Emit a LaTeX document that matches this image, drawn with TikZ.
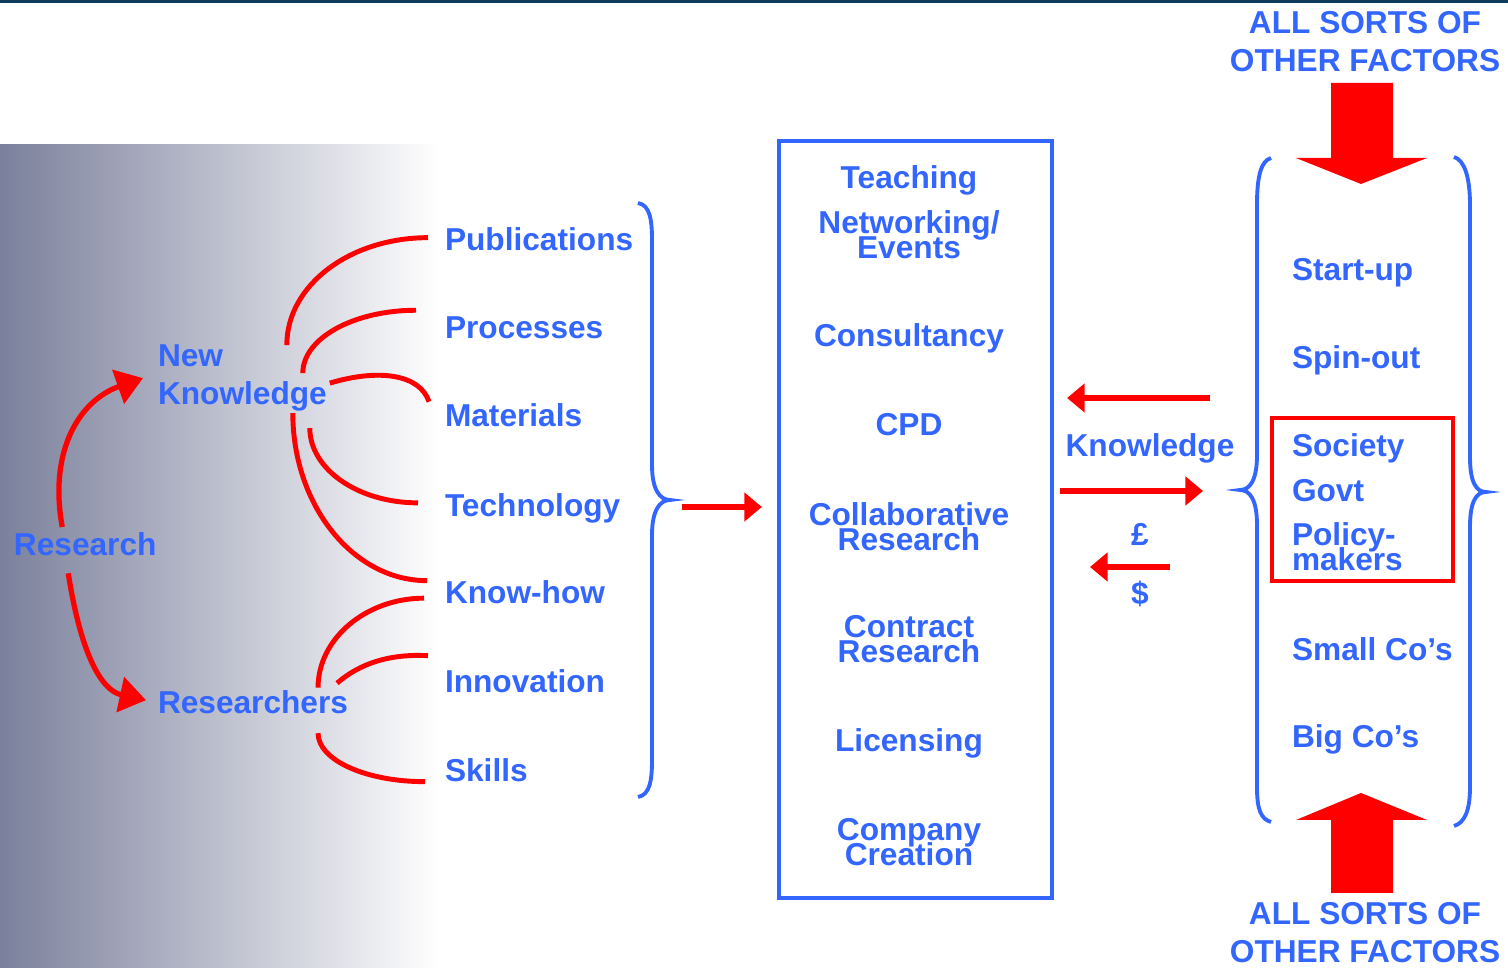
\documentclass[tikz,border=0pt]{standalone}
\usepackage{fontspec}
\setmainfont{Liberation Sans}
\usetikzlibrary{arrows.meta,calc}
\definecolor{txtblue}{HTML}{3366FF}
\definecolor{shadegray}{HTML}{7B809C}
\definecolor{topbar}{HTML}{0E3A5C}
\tikzset{
  lbl/.style={font=\fontsize{9}{11}\selectfont\bfseries, text=txtblue, inner sep=0pt, outer sep=0pt},
  twoline/.style={lbl, align=center},
  link/.style={red, line width=1.4pt},
  growth/.style={red, line width=1.5pt, -{Triangle[length=7.5pt,width=10pt]}},
  flow/.style={red, line width=1.6pt, -{Triangle[length=5pt,width=8pt]}},
  brace/.style={txtblue, line width=1.1pt},
}
\begin{document}
\begin{tikzpicture}[x=0.01cm, y=-0.01cm]
        \useasboundingbox (0,0) rectangle (1508,968);
        \fill[topbar] (0,0) rectangle (1508,3);
        \shade[left color=shadegray, right color=white] (0,145) rectangle (440,968);

        % research and what it gives
        \node[lbl, anchor=base west] (research) at (14,556) {Research};
        \node[lbl, anchor=base west, align=left] (newk) at (158,405) {New\\Knowledge};
        \node[lbl, anchor=base west] (rsrch) at (158,714) {Researchers};

        \node[lbl, anchor=base west] (pub) at (445,251) {Publications};
        \node[lbl, anchor=base west] (proc) at (445,339) {Processes};
        \node[lbl, anchor=base west] (mat) at (445,427) {Materials};
        \node[lbl, anchor=base west] (tech) at (445,517) {Technology};
        \node[lbl, anchor=base west] (knowhow) at (445,604) {Know-how};
        \node[lbl, anchor=base west] (inno) at (445,693) {Innovation};
        \node[lbl, anchor=base west] (skills) at (445,782) {Skills};

        \draw[growth] ($(research.north)+(-23,-6)$) .. controls +(-14,-77) and +(-63,22) .. ($(newk.west)+(-15,0)$);
        \draw[growth] ($(research.south)+(-17,17)$) .. controls +(12,77) and +(-46,-10) .. ($(rsrch.west)+(-12,-2.5)$);

        \draw[link] ($(newk.east)+(-40,-33)$) .. controls +(0,-60) and +(-78,0) .. ($(pub.west)+(-17,-2)$);
        \draw[link] ($(newk.east)+(-24,-5)$) .. controls +(0,-35) and +(-62,0) .. ($(proc.west)+(-29,-18)$);
        \draw[link] ($(newk.east)+(3,5)$) .. controls +(50,-15) and +(-9,-27) .. ($(mat.west)+(-16,-14)$);
        \draw[link] ($(newk.east)+(-17,50)$) .. controls +(0,41) and +(-60,0) .. ($(tech.west)+(-27,-6)$);
        \draw[link] ($(newk.east)+(-34,35)$) .. controls +(0,92) and +(-74,0) .. ($(knowhow.west)+(-18,-12)$);
        \draw[link] ($(rsrch.east)+(-30,-15)$) .. controls +(0,-49) and +(-58,0) .. ($(knowhow.west)+(-21,5.5)$);
        \draw[link] ($(rsrch.east)+(-11,-19.5)$) .. controls +(23,-20) and +(-38,-2) .. ($(inno.west)+(-17,-26)$);
        \draw[link] ($(rsrch.east)+(-30,30.5)$) .. controls +(0,27) and +(-59,0) .. ($(skills.west)+(-20,11)$);

        \coordinate (ltip) at (670,500);
        \draw[brace] (638,203) .. controls (650,205) and (652,220) .. (652,240) -- (652,465)
          .. controls (652,490) and (660,500) .. (ltip) .. controls (660,500) and (652,510) .. (652,535)
          -- (652,760) .. controls (652,780) and (650,795) .. (638,797);

        % routes
        \node[draw=txtblue, line width=1.2pt, minimum width=2.73cm, minimum height=7.57cm, inner sep=0pt, outer sep=0pt] (box) at (915.5,519.5) {};
        \node[lbl, anchor=base] (teach) at (909,189) {Teaching};
        \node[twoline, anchor=base] (netw) at (909,259) {Networking/\\[-3.7pt]Events};
        \node[lbl, anchor=base] (consult) at (909,347) {Consultancy};
        \node[lbl, anchor=base] (cpd) at (909,436) {CPD};
        \node[twoline, anchor=base] (collab) at (909,551) {Collaborative\\[-3.7pt]Research};
        \node[twoline, anchor=base] (contract) at (909,663) {Contract\\[-3.7pt]Research};
        \node[lbl, anchor=base] (licence) at (909,752) {Licensing};
        \node[twoline, anchor=base] (company) at (909,866) {Company\\[-3.7pt]Creation};

        \draw[flow] ($(ltip)+(12,7)$) -- ($(box.west)+(-17,-12.5)$);

        % exchange
        \coordinate (rtipl) at (1240,490);
        \coordinate (rtipr) at (1486,492);
        \node[lbl, anchor=base] (know) at (1150,457) {Knowledge};
        \node[lbl, anchor=base] (pound) at (1140,546) {£};
        \node[lbl, anchor=base] (dollar) at (1140,605) {\$};
        \draw[flow] ($(rtipl)+(-30,-92)$) -- ($(box.east)+(15,-121.5)$);
        \draw[flow] ($(box.east)+(8,-28.5)$) -- ($(rtipl)+(-37,1)$);
        \draw[flow] ($(pound.south)+(30,21)$) -- ($(pound.south)+(-50,21)$);

        % users
        \draw[brace] (1271,158) .. controls (1261,161) and (1257,176) .. (1257,205) -- (1257,455)
          .. controls (1257,480) and (1250,490) .. (rtipl) .. controls (1250,490) and (1257,500) .. (1257,525)
          -- (1257,787) .. controls (1257,810) and (1261,819) .. (1271,822);
        \draw[brace] (1454,157) .. controls (1464,160) and (1470,176) .. (1470,205) -- (1470,457)
          .. controls (1470,482) and (1476,492) .. (rtipr) .. controls (1476,492) and (1470,502) .. (1470,527)
          -- (1470,787) .. controls (1470,812) and (1464,823) .. (1454,826);

        \node[lbl, anchor=base west] (startup) at (1292,281) {Start-up};
        \node[lbl, anchor=base west] (spinout) at (1292,369) {Spin-out};
        \node[draw=red, line width=1.2pt, minimum width=1.81cm, minimum height=1.63cm, inner sep=0pt] (policy) at (1362.5,499.5) {};
        \node[lbl, anchor=base west] (society) at (1292,457) {Society};
        \node[lbl, anchor=base west] (govt) at (1292,502) {Govt};
        \node[twoline, anchor=base west, align=left] (makers) at (1292,571) {Policy-\\[-3.7pt]makers};
        \node[lbl, anchor=base west] (smallco) at (1292,661) {Small Co’s};
        \node[lbl, anchor=base west] (bigco) at (1292,748) {Big Co’s};

        % outside pressure
        \node[lbl, anchor=base, align=center] (factop) at (1365,72) {ALL SORTS OF\\OTHER FACTORS};
        \node[lbl, anchor=base, align=center] (facbot) at (1365,963) {ALL SORTS OF\\OTHER FACTORS};
        \fill[red] (1331,83) -- (1393,83) -- (1393,158) -- (1427,158) -- (1361,184) -- (1296,158) -- (1331,158) -- cycle;
        \fill[red] (1331,893) -- (1393,893) -- (1393,820) -- (1427,820) -- (1361,793) -- (1296,820) -- (1331,820) -- cycle;
\end{tikzpicture}
\end{document}
